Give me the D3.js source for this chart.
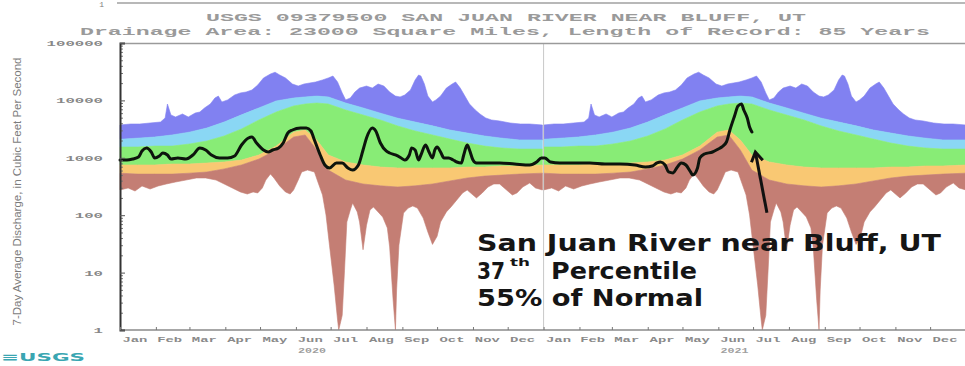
<!DOCTYPE html>
<html>
<head>
<meta charset="utf-8">
<script src="https://cdn.jsdelivr.net/npm/d3@7"></script>
<style>
  html, body { margin: 0; padding: 0; background: #fff; }
  svg { display: block; }
</style>
</head>
<body>
<svg id="chart" width="965" height="366"></svg>
<script>
// ---- Text ----
const titleLine1 = "USGS 09379500 SAN JUAN RIVER NEAR BLUFF, UT";
const titleLine2 = "Drainage Area: 23000 Square Miles, Length of Record: 85 Years";
const yAxisTitle = "7-Day Average Discharge, in Cubic Feet Per Second";
const yTickValues = [1, 10, 100, 1000, 10000, 100000];
const monthNames = ["Jan","Feb","Mar","Apr","May","Jun","Jul","Aug","Sep","Oct","Nov","Dec"];
const years = [2020, 2021];
const noteLines = ["San Juan River near Bluff, UT", "37", "th", "Percentile", "55% of Normal"];

// ---- Daily statistics by day of year (cfs) ----
const pctDays = [0,15,30,45,60,75,90,105,120,135,150,160,170,180,195,210,225,240,255,270,285,300,315,330,345,365];
const p90 = [2100,2200,2300,2500,2800,3300,4200,5600,7400,9800,11000,11500,11900,11500,9000,7400,6000,4900,4200,3600,3050,2700,2400,2200,2050,2050];
const p75 = [1540,1540,1600,1600,1740,1960,2400,3180,4560,6280,8000,8650,9000,8650,6800,5570,4560,3580,2930,2500,2120,1810,1600,1480,1420,1420];
const p25 = [750,750,750,780,780,810,845,915,1120,1600,2800,3050,2040,1120,845,750,690,665,665,665,665,690,690,720,720,750];
const p10 = [540,520,520,520,540,565,640,750,950,1370,2300,2500,1370,610,410,350,325,310,325,350,395,445,480,500,520,540];

// Maximum of record: [day of year, cfs]
const maxFlow = [[0,3730],[9,3880],[17,3880],[26,4040],[35,4200],[39,4940],[41,8650],[44,5570],[48,5140],[54,5800],
  [59,5140],[65,6030],[69,6280],[73,7370],[78,8650],[82,11000],[85,11900],[88,9380],[93,10200],[99,12400],
  [104,13500],[109,14000],[114,15200],[119,18500],[124,24600],[130,28800],[134,31000],[138,27700],[143,24600],[149,19300],
  [154,17800],[159,19300],[164,20100],[169,20900],[175,22700],[180,24600],[184,26600],[188,20900],[192,13500],[195,10200],
  [199,11000],[203,14000],[207,16400],[213,17800],[218,16400],[223,19300],[228,17800],[233,14000],[238,11900],[242,11500],
  [246,12400],[251,15200],[255,22700],[258,27700],[260,26600],[263,19300],[266,11900],[270,9380],[273,10200],[277,11900],
  [282,16400],[287,19300],[290,20900],[294,16400],[298,11900],[302,8650],[307,6800],[311,5800],[316,4940],[321,4560],
  [328,4380],[337,4040],[346,3880],[354,3880],[365,3730]];

// Minimum of record: [day of year, cfs]
const minFlow = [[0,275],[7,298],[13,264],[19,323],[26,286],[33,323],[40,350],[48,379],[57,410],[66,445],
  [74,445],[83,410],[90,350],[97,298],[104,254],[110,234],[115,254],[119,244],[123,298],[126,410],
  [130,522],[133,445],[138,323],[143,254],[147,234],[150,275],[154,410],[157,566],[162,613],[168,566],
  [171,379],[175,225],[178,101],[181,30],[185,6.1],[188,1.5],[189,1],[192,1.8],[194,11],[196,76],
  [199,123],[201,163],[205,114],[207,76],[210,25],[213,67],[216,123],[219,139],[223,114],[227,93],
  [231,60],[233,28],[236,3.3],[238,1],[239,5],[241,30],[245,109],[249,133],[253,145],[257,133],
  [262,89],[266,51],[270,31],[274,43],[277,76],[282,114],[286,139],[291,184],[296,244],[300,275],
  [304,234],[308,200],[313,244],[318,310],[323,350],[328,350],[334,275],[339,225],[343,244],[348,310],
  [354,364],[359,298],[365,275]];

// Observed 7-day average discharge: [days since 2020-01-01, cfs]
const observed = [[0,915],[6,915],[11,953],[16,1033],[19,1314],[23,1482],[27,1262],[30,992],[34,1075],[37,1212],
  [41,1119],[44,953],[50,992],[57,953],[63,1119],[69,1482],[74,1368],[79,1119],[86,992],[93,992],
  [99,1075],[105,1671],[111,2212],[114,2303],[118,1810],[124,1368],[128,1262],[132,1368],[137,1482],[141,1810],
  [145,2704],[149,3050],[156,3306],[161,3306],[165,2931],[168,2042],[173,1119],[177,749],[181,664],[187,812],
  [192,812],[197,664],[201,613],[206,749],[210,1368],[213,2212],[218,3306],[221,2931],[225,1810],[230,1314],
  [233,1212],[238,1119],[243,992],[246,915],[250,1119],[252,1482],[255,1368],[258,915],[260,1119],[264,1671],
  [267,1262],[270,992],[272,1368],[274,1542],[277,1262],[280,992],[284,992],[288,915],[291,845],[295,812],
  [297,1119],[300,1671],[302,1368],[305,915],[308,812],[315,812],[328,812],[341,780],[354,749],[360,845],
  [364,992],[367,992],[372,845],[380,812],[393,812],[406,812],[419,780],[432,780],[445,749],[454,691],
  [460,720],[464,812],[467,845],[471,749],[474,566],[478,544],[481,664],[485,812],[489,749],[493,566],
  [495,502],[499,664],[501,992],[505,1165],[512,1262],[517,1423],[520,1542],[524,1885],[527,3050],[531,5350],
  [534,7988],[537,8655],[539,6806],[542,4935],[544,3440],[546,2814]];

// Arrow from a low flow up to the latest reading: [days since 2020-01-01, cfs]
const arrowTail = [559, 110];
const arrowTip = [549, 1260];

// ---- Colours ----
const bandColors = {
  high: "#8181f1",      // above 90th percentile
  aboveNormal: "#8ad7f4",
  normal: "#88ec76",
  belowNormal: "#f9c873",
  low: "#c47e74"        // below 10th percentile
};
const textGray = "#7c7c7c";

// ---- Layout ----
const plot = { left: 120, right: 966, top: 43, bottom: 330 };

const svg = d3.select("#chart");

const x = d3.scaleTime()
  .domain([new Date(2020, 0, 1), new Date(2022, 0, 1)])
  .range([plot.left, plot.right]);

const y = d3.scaleLog()
  .domain([1, 100000])
  .range([plot.bottom, plot.top]);

const dayDate = (year, d) => new Date(year, 0, 1 + d);

// ---- Percentile bands, drawn for each year ----
const bandsG = svg.append("g");
const lineGen = d3.line().x(p => x(p.date)).y(p => y(p.v));

years.forEach(yr => {
  const pts = arr => pctDays.map((d, i) => ({ date: dayDate(yr, d), v: arr[i] }));
  const pairPts = arr => arr.map(([d, v]) => ({ date: dayDate(yr, d), v }));

  const bandPath = (upper, lower) => lineGen(upper.concat(lower.slice().reverse())) + "Z";

  const paint = (d, color) => bandsG.append("path")
    .attr("d", d)
    .attr("fill", color)
    .attr("stroke", color)
    .attr("stroke-width", 0.6)
    .attr("stroke-linejoin", "round");

  paint(bandPath(pairPts(maxFlow), pts(p90)), bandColors.high);
  paint(bandPath(pts(p90), pts(p75)), bandColors.aboveNormal);
  paint(bandPath(pts(p75), pts(p25)), bandColors.normal);
  paint(bandPath(pts(p25), pts(p10)), bandColors.belowNormal);
  paint(bandPath(pts(p10), pairPts(minFlow)), bandColors.low);
});

// Year boundary
svg.append("line")
  .attr("x1", x(new Date(2021, 0, 1))).attr("x2", x(new Date(2021, 0, 1)))
  .attr("y1", plot.top).attr("y2", plot.bottom)
  .attr("stroke", "#c8c8c8").attr("stroke-width", 1);

// ---- Observed flow ----
svg.append("path")
  .datum(observed.map(([d, v]) => ({ date: dayDate(2020, d), v })))
  .attr("d", lineGen.curve(d3.curveMonotoneX))
  .attr("fill", "none")
  .attr("stroke", "#0d140d")
  .attr("stroke-width", 3)
  .attr("stroke-linejoin", "round")
  .attr("stroke-linecap", "round");

// ---- Frame ----
svg.append("line")
  .attr("x1", plot.left).attr("x2", 965).attr("y1", plot.top + 0.5).attr("y2", plot.top + 0.5)
  .attr("stroke", "#9a9a9a").attr("stroke-width", 1.5);
svg.append("line")
  .attr("x1", plot.left).attr("x2", 965).attr("y1", plot.bottom).attr("y2", plot.bottom)
  .attr("stroke", "#8a8a8a").attr("stroke-width", 1.5);

// Fragment of the panel above
svg.append("line")
  .attr("x1", 117).attr("x2", 965).attr("y1", 3).attr("y2", 3)
  .attr("stroke", "#a0a0a0").attr("stroke-width", 1.5);
svg.append("text")
  .attr("x", 104).attr("y", 7).attr("text-anchor", "end")
  .attr("font-family", "Liberation Mono, monospace").attr("font-size", 8)
  .attr("fill", textGray).text("1");

// ---- Y axis ----
const minorTicks = [];
for (let e = 0; e < 5; e++) for (let m = 2; m <= 9; m++) minorTicks.push(m * Math.pow(10, e));

svg.append("g")
  .attr("transform", `translate(${plot.left},0)`)
  .call(d3.axisLeft(y).tickValues(minorTicks).tickSize(-3).tickFormat(""))
  .call(g => g.select(".domain").remove())
  .call(g => g.selectAll("line").attr("stroke", "#777"));

const yAxisG = svg.append("g")
  .attr("transform", `translate(${plot.left},0)`)
  .call(d3.axisLeft(y).tickValues(yTickValues).tickSize(-5).tickPadding(17).tickFormat(d3.format("d")));
yAxisG.select(".domain").attr("stroke", "#333").attr("stroke-width", 2);
yAxisG.selectAll("line").attr("stroke", "#555");
yAxisG.selectAll("text")
  .attr("font-family", "Liberation Mono, monospace")
  .attr("font-size", 8)
  .attr("font-weight", "bold")
  .attr("fill", "#888")
  .attr("textLength", d => String(d).length * 9.4)
  .attr("lengthAdjust", "spacingAndGlyphs");

svg.append("text")
  .attr("transform", `translate(21,${(plot.top + plot.bottom) / 2 + 5}) rotate(-90)`)
  .attr("text-anchor", "middle")
  .attr("font-family", "Liberation Sans, sans-serif")
  .attr("font-size", 10)
  .attr("fill", textGray)
  .attr("textLength", 268)
  .attr("lengthAdjust", "spacingAndGlyphs")
  .text(yAxisTitle);

// ---- X axis ----
svg.append("g")
  .attr("transform", `translate(0,${plot.bottom})`)
  .call(d3.axisBottom(x).ticks(d3.timeMonth.every(1)).tickSize(-3).tickFormat(""))
  .call(g => g.select(".domain").remove())
  .call(g => g.selectAll("line").attr("stroke", "#777"));

const monthLabels = [];
years.forEach(yr => monthNames.forEach((name, m) => monthLabels.push({ yr, m, name })));

svg.append("g").selectAll("text")
  .data(monthLabels)
  .join("text")
  .attr("x", d => (x(new Date(d.yr, d.m, 1)) + x(new Date(d.yr, d.m + 1, 1))) / 2 - 3)
  .attr("y", 342)
  .attr("text-anchor", "middle")
  .attr("font-family", "Liberation Mono, monospace")
  .attr("font-size", 7)
  .attr("font-weight", "bold")
  .attr("fill", "#8a8a8a")
  .attr("textLength", 25)
  .attr("lengthAdjust", "spacingAndGlyphs")
  .text(d => d.name);

svg.append("g").selectAll("text")
  .data(years)
  .join("text")
  .attr("x", d => x(new Date(d, 5, 15)))
  .attr("y", 353)
  .attr("text-anchor", "middle")
  .attr("font-family", "Liberation Mono, monospace")
  .attr("font-size", 7)
  .attr("font-weight", "bold")
  .attr("fill", "#a0a0a0")
  .attr("textLength", 28)
  .attr("lengthAdjust", "spacingAndGlyphs")
  .text(d => d);

// ---- Titles ----
svg.append("text")
  .attr("x", 506).attr("y", 21)
  .attr("text-anchor", "middle")
  .attr("font-family", "Liberation Mono, monospace")
  .attr("font-size", 10)
  .attr("font-weight", "bold")
  .attr("fill", "#9a9a9a")
  .attr("textLength", 600)
  .attr("lengthAdjust", "spacingAndGlyphs")
  .text(titleLine1);

svg.append("text")
  .attr("x", 505).attr("y", 35)
  .attr("text-anchor", "middle")
  .attr("font-family", "Liberation Mono, monospace")
  .attr("font-size", 10)
  .attr("font-weight", "bold")
  .attr("fill", "#9a9a9a")
  .attr("textLength", 850)
  .attr("lengthAdjust", "spacingAndGlyphs")
  .text(titleLine2);

// ---- Agency mark ----
svg.append("text")
  .attr("x", 1).attr("y", 361)
  .attr("font-family", "DejaVu Sans, sans-serif")
  .attr("font-size", 11)
  .attr("font-weight", "bold")
  .attr("fill", "#3aa6b2")
  .attr("textLength", 84)
  .attr("lengthAdjust", "spacingAndGlyphs")
  .text("≡USGS");

// ---- Annotation ----
const noteG = svg.append("g")
  .attr("font-family", "DejaVu Sans, sans-serif")
  .attr("font-weight", "bold")
  .attr("fill", "#151515");

noteG.append("text").attr("x", 477).attr("y", 251).attr("font-size", 23)
  .attr("textLength", 464).attr("lengthAdjust", "spacingAndGlyphs").text(noteLines[0]);
noteG.append("text").attr("x", 477).attr("y", 279).attr("font-size", 23)
  .attr("textLength", 28).attr("lengthAdjust", "spacingAndGlyphs").text(noteLines[1]);
noteG.append("text").attr("x", 510).attr("y", 266).attr("font-size", 11)
  .attr("textLength", 20).attr("lengthAdjust", "spacingAndGlyphs").text(noteLines[2]);
noteG.append("text").attr("x", 551).attr("y", 279).attr("font-size", 23)
  .attr("textLength", 146).attr("lengthAdjust", "spacingAndGlyphs").text(noteLines[3]);
noteG.append("text").attr("x", 477).attr("y", 306).attr("font-size", 23)
  .attr("textLength", 226).attr("lengthAdjust", "spacingAndGlyphs").text(noteLines[4]);

// Arrow pointing at the end of the observed record
const ax0 = x(dayDate(2020, arrowTail[0])), ay0 = y(arrowTail[1]);
const ax1 = x(dayDate(2020, arrowTip[0])), ay1 = y(arrowTip[1]);
svg.append("line")
  .attr("x1", ax0).attr("y1", ay0).attr("x2", ax1).attr("y2", ay1)
  .attr("stroke", "#111").attr("stroke-width", 3);
const ang = Math.atan2(ay1 - ay0, ax1 - ax0);
const headLen = 11, spread = 0.55;
svg.append("path")
  .attr("d", `M${ax1 - headLen * Math.cos(ang - spread)},${ay1 - headLen * Math.sin(ang - spread)}` +
             `L${ax1},${ay1}` +
             `L${ax1 - headLen * Math.cos(ang + spread)},${ay1 - headLen * Math.sin(ang + spread)}`)
  .attr("fill", "none").attr("stroke", "#111").attr("stroke-width", 3)
  .attr("stroke-linejoin", "miter");
</script>
</body>
</html>
